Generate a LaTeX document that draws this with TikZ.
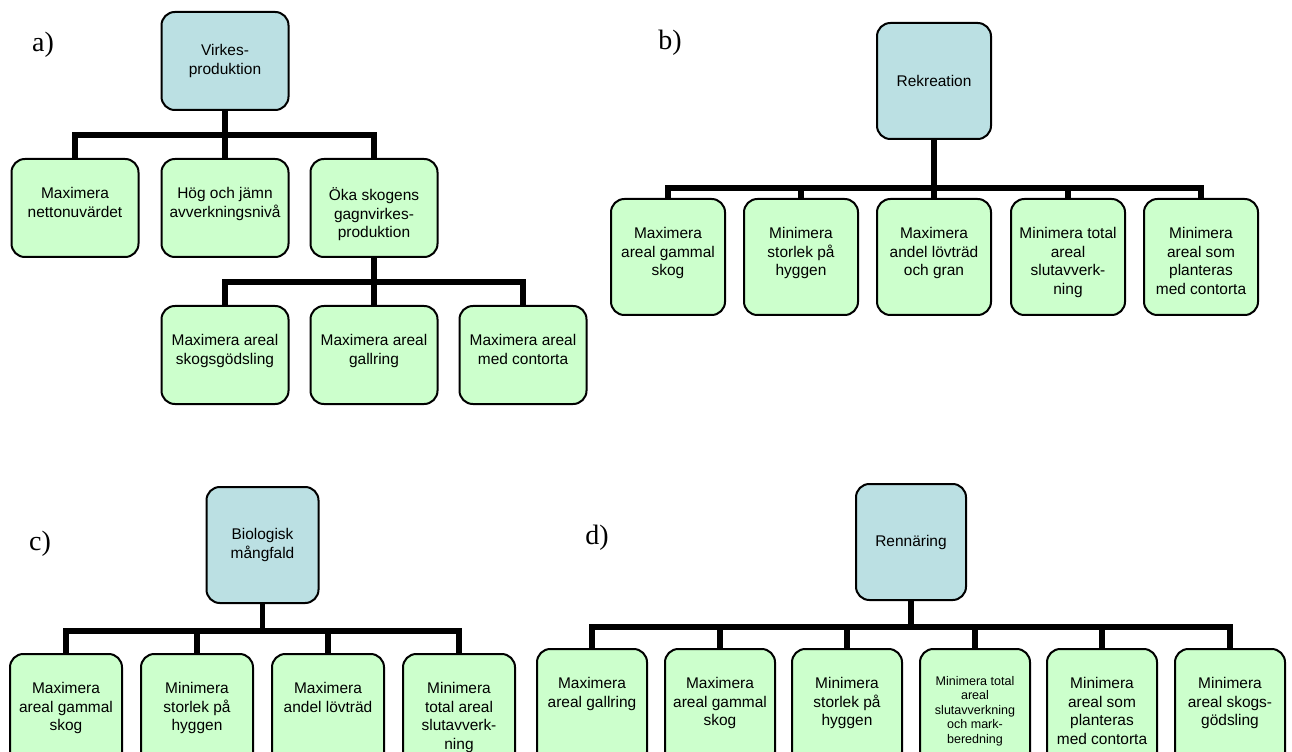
\documentclass[tikz,border=0pt]{standalone}
\usepackage{fontspec}
\setmainfont{Liberation Sans}
\newfontfamily\lblfont{Liberation Serif}
\definecolor{topfill}{HTML}{BBE0E3}
\definecolor{leaffill}{HTML}{CCFFCC}
\begin{document}
\begin{tikzpicture}[x=0.75pt,y=-0.75pt,
  topbox/.style={draw=black, line width=1.5pt, fill=topfill, rounded corners=10pt, inner sep=0pt, align=center, font=\fontsize{11.6pt}{13.9pt}\selectfont},
  leafbox/.style={draw=black, line width=1.5pt, fill=leaffill, rounded corners=10pt, inner sep=0pt},
  leaftext/.style={anchor=north, inner sep=0pt, align=center, font=\fontsize{11.6pt}{13.9pt}\selectfont},
  smalltext/.style={anchor=north, inner sep=0pt, align=center, font=\fontsize{9.4pt}{10.9pt}\selectfont},
  conn/.style={line width=4.1pt, line join=miter},
  lbl/.style={font=\lblfont\fontsize{21pt}{24pt}\selectfont, inner sep=0pt},
  asize/.style={minimum width=95.25pt, minimum height=73.5pt},
  bsize/.style={minimum width=85.5pt, minimum height=87pt},
  csize/.style={minimum width=84pt, minimum height=87pt},
  dsize/.style={minimum width=82.5pt, minimum height=87pt},
  tdrop/.style={yshift=-22pt}
]
\useasboundingbox (0,0) rectangle (1292,752);

% ---------- panel a ----------
\node[lbl] (la) at (43,45) {a)};
\node[topbox, asize] (A0) at (225,61) {Virkes-\\produktion};
\node[leafbox, asize] (A1) at (75,208) {};
\node[leafbox, asize] (A2) at (225,208) {};
\node[leafbox, asize] (A3) at (374,208) {};
\node[leafbox, asize] (A4) at (225,355) {};
\node[leafbox, asize] (A5) at (374,355) {};
\node[leafbox, asize] (A6) at (523,355) {};
\node[leaftext] (A1t) at ([tdrop]A1.north) {Maximera\\nettonuvärdet};
\node[leaftext] (A2t) at ([tdrop]A2.north) {Hög och jämn\\avverkningsnivå};
\node[leaftext] (A3t) at ([tdrop]A3.north) {Öka skogens\\gagnvirkes-\\produktion};
\node[leaftext] (A4t) at ([tdrop]A4.north) {Maximera areal\\skogsgödsling};
\node[leaftext] (A5t) at ([tdrop]A5.north) {Maximera areal\\gallring};
\node[leaftext] (A6t) at ([tdrop]A6.north) {Maximera areal\\med contorta};
\coordinate (ha) at (0,135);
\coordinate (hb) at (0,282);
\draw[conn] (A0.south) -- (A0.south |- ha);
\draw[conn] (A1.north) -- (A1.north |- ha) -- (A3.north |- ha) -- (A3.north);
\draw[conn] (A2.north |- ha) -- (A2.north);
\draw[conn] (A3.south) -- (A3.south |- hb);
\draw[conn] (A4.north) -- (A4.north |- hb) -- (A6.north |- hb) -- (A6.north);
\draw[conn] (A5.north |- hb) -- (A5.north);

% ---------- panel b ----------
\node[lbl] (lb) at (670,43) {b)};
\node[topbox, bsize] (B0) at (934,81) {Rekreation};
\node[leafbox, bsize] (B1) at (668,257) {};
\node[leafbox, bsize] (B2) at (801,257) {};
\node[leafbox, bsize] (B3) at (934,257) {};
\node[leafbox, bsize] (B4) at (1068,257) {};
\node[leafbox, bsize] (B5) at (1201,257) {};
\node[leaftext] (B1t) at ([tdrop]B1.north) {Maximera\\areal gammal\\skog};
\node[leaftext] (B2t) at ([tdrop]B2.north) {Minimera\\storlek på\\hyggen};
\node[leaftext] (B3t) at ([tdrop]B3.north) {Maximera\\andel lövträd\\och gran};
\node[leaftext] (B4t) at ([tdrop]B4.north) {Minimera total\\areal\\slutavverk-\\ning};
\node[leaftext] (B5t) at ([tdrop]B5.north) {Minimera\\areal som\\planteras\\med contorta};
\coordinate (hc) at (0,188);
\draw[conn] (B0.south) -- (B0.south |- hc);
\draw[conn] (B1.north) -- (B1.north |- hc) -- (B5.north |- hc) -- (B5.north);
\draw[conn] (B2.north |- hc) -- (B2.north);
\draw[conn] (B3.north |- hc) -- (B3.north);
\draw[conn] (B4.north |- hc) -- (B4.north);

% ---------- panel c ----------
\node[lbl] (lc) at (40,544) {c)};
\node[topbox, csize] (C0) at (262.5,545) {Biologisk\\mångfald};
\node[leafbox, csize] (C1) at (66,712) {};
\node[leafbox, csize] (C2) at (197,712) {};
\node[leafbox, csize] (C3) at (328,712) {};
\node[leafbox, csize] (C4) at (459,712) {};
\node[leaftext] (C1t) at ([tdrop]C1.north) {Maximera\\areal gammal\\skog};
\node[leaftext] (C2t) at ([tdrop]C2.north) {Minimera\\storlek på\\hyggen};
\node[leaftext] (C3t) at ([tdrop]C3.north) {Maximera\\andel lövträd};
\node[leaftext] (C4t) at ([tdrop]C4.north) {Minimera\\total areal\\slutavverk-\\ning};
\coordinate (hd) at (0,631);
\draw[conn] (C0.south) -- (C0.south |- hd);
\draw[conn] (C1.north) -- (C1.north |- hd) -- (C4.north |- hd) -- (C4.north);
\draw[conn] (C2.north |- hd) -- (C2.north);
\draw[conn] (C3.north |- hd) -- (C3.north);

% ---------- panel d ----------
\node[lbl] (ld) at (597,538) {d)};
\node[topbox, dsize] (D0) at (911,542) {Rennäring};
\node[leafbox, dsize] (D1) at (592,707) {};
\node[leafbox, dsize] (D2) at (720,707) {};
\node[leafbox, dsize] (D3) at (847,707) {};
\node[leafbox, dsize] (D4) at (975,707) {};
\node[leafbox, dsize] (D5) at (1102,707) {};
\node[leafbox, dsize] (D6) at (1230,707) {};
\node[leaftext] (D1t) at ([tdrop]D1.north) {Maximera\\areal gallring};
\node[leaftext] (D2t) at ([tdrop]D2.north) {Maximera\\areal gammal\\skog};
\node[leaftext] (D3t) at ([tdrop]D3.north) {Minimera\\storlek på\\hyggen};
\node[smalltext] (D4t) at ([yshift=-21pt]D4.north) {Minimera total\\areal\\slutavverkning\\och mark-\\beredning};
\node[leaftext] (D5t) at ([tdrop]D5.north) {Minimera\\areal som\\planteras\\med contorta};
\node[leaftext] (D6t) at ([tdrop]D6.north) {Minimera\\areal skogs-\\gödsling};
\coordinate (he) at (0,627);
\draw[conn] (D0.south) -- (D0.south |- he);
\draw[conn] (D1.north) -- (D1.north |- he) -- (D6.north |- he) -- (D6.north);
\draw[conn] (D2.north |- he) -- (D2.north);
\draw[conn] (D3.north |- he) -- (D3.north);
\draw[conn] (D4.north |- he) -- (D4.north);
\draw[conn] (D5.north |- he) -- (D5.north);
\end{tikzpicture}
\end{document}
